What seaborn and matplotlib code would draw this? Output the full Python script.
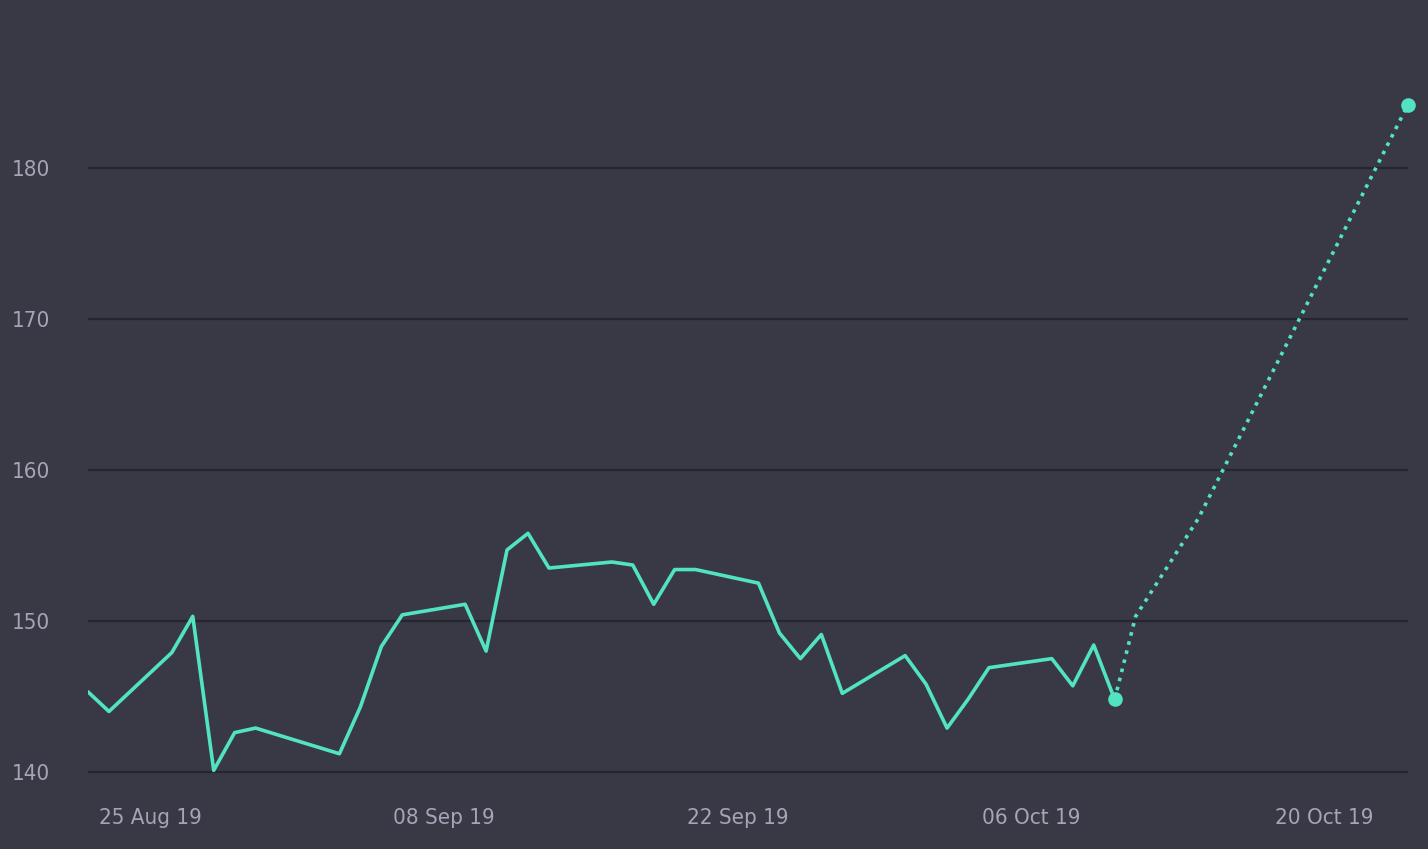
import pandas as pd
import matplotlib.pyplot as plt
import matplotlib.dates as mdates
import seaborn as sns

# Observed prices (trading days)
dates = ["2019-08-22", "2019-08-23", "2019-08-26", "2019-08-27", "2019-08-28",
         "2019-08-29", "2019-08-30", "2019-09-03", "2019-09-04", "2019-09-05",
         "2019-09-06", "2019-09-09", "2019-09-10", "2019-09-11", "2019-09-12",
         "2019-09-13", "2019-09-16", "2019-09-17", "2019-09-18", "2019-09-19",
         "2019-09-20", "2019-09-23", "2019-09-24", "2019-09-25", "2019-09-26",
         "2019-09-27", "2019-09-30", "2019-10-01", "2019-10-02", "2019-10-03",
         "2019-10-04", "2019-10-07", "2019-10-08", "2019-10-09", "2019-10-10"]
prices = [145.3, 144.0, 147.9, 150.3, 140.1,
          142.6, 142.9, 141.2, 144.3, 148.3,
          150.4, 151.1, 148.0, 154.7, 155.8,
          153.5, 153.9, 153.7, 151.1, 153.4,
          153.4, 152.5, 149.2, 147.5, 149.1,
          145.2, 147.7, 145.8, 142.9, 144.8,
          146.9, 147.5, 145.7, 148.4, 144.8]

# Forecast (dotted)
fc_dates = ["2019-10-10", "2019-10-11", "2019-10-14", "2019-10-24"]
fc_prices = [144.8, 150.3, 156.8, 184.2]

tick_dates = ["2019-08-25", "2019-09-08", "2019-09-22", "2019-10-06", "2019-10-20"]
y_ticks = [140, 150, 160, 170, 180]

bg = "#393945"
grid_col = "#26262e"
text_col = "#a6a4b6"
line_col = "#52e3c2"

df = pd.DataFrame({"date": pd.to_datetime(dates), "price": prices})
fc = pd.DataFrame({"date": pd.to_datetime(fc_dates), "price": fc_prices})

sns.set_theme(style="dark", rc={"axes.facecolor": bg, "figure.facecolor": bg})
plt.rcParams['font.family'] = ['DejaVu Sans']
plt.rcParams['font.stretch'] = 'condensed'

fig = plt.figure(figsize=(14.28, 8.49), dpi=100)
ax = fig.add_axes([88 / 1428, 56 / 849, 1320 / 1428, 773 / 849])

sns.lineplot(data=df, x="date", y="price", ax=ax, color=line_col, linewidth=2.6)
sns.lineplot(data=fc, x="date", y="price", ax=ax, color=line_col, linewidth=2.6,
             linestyle=(0, (1, 1.6)))
ends = fc.iloc[[0, -1]]
ax.plot(ends["date"], ends["price"], "o", color=line_col, markersize=9.5, clip_on=False, zorder=5)

ax.set_xlim(pd.Timestamp("2019-08-22"), pd.Timestamp("2019-10-24"))
ax.set_ylim(138.6, 189.8)
ax.set_yticks(y_ticks)
ax.set_xticks(pd.to_datetime(tick_dates))
ax.xaxis.set_major_formatter(mdates.DateFormatter("%d %b %y"))

ax.grid(False)
ax.yaxis.grid(True, color=grid_col, linewidth=1.6)
for s in ax.spines.values():
    s.set_visible(False)
ax.tick_params(axis="both", length=0, labelcolor=text_col, labelsize=16)
ax.tick_params(axis="y", pad=27)
ax.tick_params(axis="x", pad=11)
ax.set_xlabel("")
ax.set_ylabel("")

fig.savefig("out.png", dpi=100, facecolor=bg)
